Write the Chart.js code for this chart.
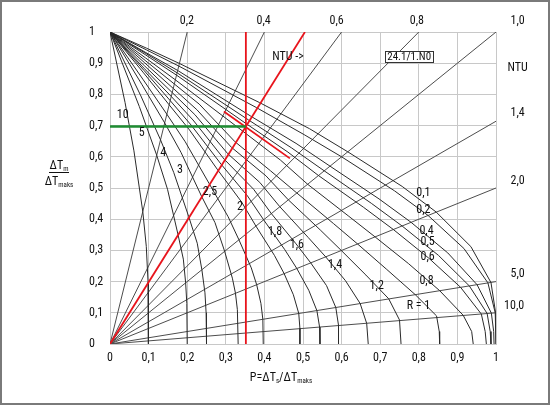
<!DOCTYPE html>
<html><head><meta charset="utf-8">
<script src="https://cdn.jsdelivr.net/npm/chart.js@4/dist/chart.umd.min.js"></script>
<style>html,body{margin:0;padding:0;background:#fff}#wrap{width:550px;height:405px;position:relative}</style>
</head><body><div id="wrap"><canvas id="c" width="550" height="405"></canvas></div>
<script>
const FONT = "'Roboto Condensed','Liberation Sans Narrow','Arial Narrow','Liberation Sans',Arial,sans-serif";

// ---- Data ----
const xTickValues = [0,0.1,0.2,0.3,0.4,0.5,0.6,0.7,0.8,0.9,1];
const xTickLabels = ['0','0,1','0,2','0,3','0,4','0,5','0,6','0,7','0,8','0,9','1'];
const yTickValues = [0,0.1,0.2,0.3,0.4,0.5,0.6,0.7,0.8,0.9,1];
const yTickLabels = ['0','0,1','0,2','0,3','0,4','0,5','0,6','0,7','0,8','0,9','1'];

// R curves: [P, dTm/dTmax]
const curveR10  = [[0,1],[0.039,0.774],[0.062,0.619],[0.085,0.424],[0.094,0.313],[0.0985,0.2],[0.0995,0.1],[0.0995,0]];
const curveR5   = [[0,1],[0.076,0.761],[0.121,0.605],[0.149,0.496],[0.176,0.352],[0.190,0.272],[0.196,0.196],[0.199,0.13],[0.2,0]];
const curveR4   = [[0,1],[0.080,0.795],[0.131,0.654],[0.165,0.55],[0.204,0.408],[0.226,0.323],[0.238,0.238],[0.246,0.164],[0.249,0.1],[0.25,0]];
const curveR3   = [[0,1],[0.083,0.831],[0.142,0.708],[0.184,0.614],[0.237,0.474],[0.272,0.389],[0.297,0.297],[0.317,0.211],[0.325,0.163],[0.330,0.11],[0.332,0]];
const curveR25  = [[0,1],[0.085,0.849],[0.147,0.737],[0.195,0.648],[0.257,0.514],[0.306,0.408],[0.334,0.334],[0.366,0.244],[0.380,0.190],[0.391,0.130],[0.396,0.079],[0.397,0]];
const curveR2   = [[0,1],[0.087,0.869],[0.153,0.767],[0.206,0.686],[0.279,0.558],[0.341,0.455],[0.378,0.378],[0.426,0.284],[0.451,0.226],[0.475,0.158],[0.489,0.098],[0.492,0.05],[0.492,0]];
const curveR18  = [[0,1],[0.088,0.877],[0.156,0.78],[0.210,0.702],[0.288,0.576],[0.356,0.475],[0.398,0.398],[0.453,0.302],[0.484,0.242],[0.515,0.172],[0.536,0.107],[0.543,0.054],[0.544,0]];
const curveR16  = [[0,1],[0.088,0.884],[0.159,0.793],[0.215,0.718],[0.296,0.592],[0.372,0.496],[0.418,0.418],[0.482,0.321],[0.520,0.260],[0.561,0.187],[0.585,0.117],[0.592,0.06],[0.592,0]];
const curveR14  = [[0,1],[0.089,0.892],[0.161,0.806],[0.220,0.735],[0.305,0.61],[0.388,0.518],[0.440,0.440],[0.513,0.342],[0.559,0.279],[0.610,0.203],[0.648,0.13],[0.665,0.066],[0.669,0]];
const curveR12  = [[0,1],[0.090,0.901],[0.164,0.819],[0.225,0.751],[0.315,0.63],[0.404,0.539],[0.462,0.462],[0.546,0.364],[0.599,0.30],[0.663,0.221],[0.722,0.145],[0.750,0.077],[0.754,0]];
const curveR1   = [[0,1],[0.091,0.909],[0.167,0.833],[0.231,0.769],[0.324,0.648],[0.416,0.555],[0.484,0.484],[0.579,0.386],[0.641,0.321],[0.717,0.239],[0.791,0.158],[0.846,0.09],[0.853,0.04],[0.854,0]];
const curveR08  = [[0,1],[0.092,0.917],[0.169,0.847],[0.342,0.684],[0.442,0.589],[0.512,0.512],[0.617,0.411],[0.687,0.343],[0.773,0.258],[0.854,0.171],[0.915,0.092],[0.937,0.04],[0.941,0]];
const curveR06  = [[0,1],[0.093,0.926],[0.172,0.862],[0.353,0.706],[0.461,0.615],[0.540,0.540],[0.657,0.438],[0.734,0.367],[0.826,0.275],[0.908,0.182],[0.962,0.096],[0.972,0.04],[0.975,0]];
const curveR05  = [[0,1],[0.093,0.931],[0.174,0.869],[0.359,0.718],[0.471,0.628],[0.555,0.555],[0.677,0.451],[0.757,0.378],[0.851,0.284],[0.931,0.186],[0.977,0.098],[0.985,0.04],[0.987,0]];
const curveR04  = [[0,1],[0.093,0.934],[0.175,0.877],[0.365,0.73],[0.482,0.643],[0.570,0.570],[0.697,0.465],[0.780,0.390],[0.875,0.292],[0.951,0.190],[0.988,0.099],[0.994,0.04],[0.995,0]];
const curveR02  = [[0,1],[0.094,0.943],[0.178,0.891],[0.379,0.758],[0.503,0.671],[0.600,0.600],[0.737,0.491],[0.824,0.412],[0.917,0.306],[0.979,0.196],[0.998,0.1],[1,0]];
const curveR01  = [[0,1],[0.095,0.948],[0.180,0.899],[0.387,0.774],[0.517,0.690],[0.616,0.616],[0.757,0.505],[0.845,0.423],[0.935,0.312],[0.987,0.197],[0.999,0.1],[1,0]];
const rCurves = [curveR10,curveR5,curveR4,curveR3,curveR25,curveR2,curveR18,curveR16,curveR14,curveR12,curveR1,curveR08,curveR06,curveR05,curveR04,curveR02,curveR01];

// NTU lines from the origin: end points
const ntuLineEnds = [[0.2,1],[0.4,1],[0.6,1],[0.8,1],[1,1],[1,0.714],[1,0.5],[1,0.2],[1,0.1]];
const ntuLabelTexts = ['0,2','0,4','0,6','0,8','1,0','1,4','2,0','5,0','10,0'];

// Worked example (red / green)
const redNtuLine  = [[0,0],[0.505,1]];
const redVertical = [[0.352,0],[0.352,1]];
const redTangent  = [[0.295,0.745],[0.466,0.595]];
const greenLine   = [[0,0.697],[0.352,0.697]];

// R curve labels
const rLabelTexts = ['10','5','4','3','2,5','2','1,8','1,6','1,4','1,2','R = 1','0,8','0,6','0,5','0,4','0,2','0,1'];
const rLabelPos = [[0.033,0.734],[0.082,0.675],[0.138,0.613],[0.181,0.558],[0.259,0.488],[0.337,0.44],[0.4275,0.36],[0.484,0.317],[0.583,0.253],[0.691,0.186],[0.799,0.122],[0.82,0.202],[0.823,0.278],[0.823,0.328],[0.82,0.363],[0.812,0.429],[0.812,0.483]];
// NTU label positions (data units, outside plot)
const ntuLabelPos = [[0.199,1.035],[0.398,1.035],[0.587,1.035],[0.795,1.035],[1.056,1.035],[1.056,0.739],[1.056,0.522],[1.056,0.224],[1.047,0.122]];

const pts = a => a.map(p => ({x:p[0], y:p[1]}));
const datasets = [];
rCurves.forEach(c => datasets.push({data:pts(c), showLine:true, borderColor:'#2a2a2a', borderWidth:1, pointRadius:0, order:2}));
ntuLineEnds.forEach(e => datasets.push({data:pts([[0,0],e]), showLine:true, borderColor:'#4d4d4d', borderWidth:1, pointRadius:0, order:3}));
[redNtuLine, redVertical, redTangent].forEach(l => datasets.push({data:pts(l), showLine:true, borderColor:'#e8141c', borderWidth:1.8, pointRadius:0, order:1}));
datasets.push({data:pts(greenLine), showLine:true, borderColor:'#1e8c32', borderWidth:2.4, pointRadius:0, order:0});

const MAINF = `12px ${FONT}`;
const SUBF = `7px ${FONT}`;
let SX = 1; // horizontal squeeze to imitate the condensed face of the original

function narrowText(ctx, t, x, y){
  ctx.save(); ctx.translate(x, y); ctx.scale(SX, 1); ctx.fillText(t, 0, 0); ctx.restore();
}
function drawRich(ctx, parts, x, y, align){
  let w = 0;
  parts.forEach(p => { ctx.font = p[1] ? SUBF : MAINF; w += ctx.measureText(p[0]).width * SX; });
  let cx = align === 'center' ? x - w/2 : x;
  ctx.textAlign = 'left'; ctx.textBaseline = 'alphabetic';
  parts.forEach(p => { ctx.font = p[1] ? SUBF : MAINF; narrowText(ctx, p[0], cx, p[1] ? y + 2 : y); cx += ctx.measureText(p[0]).width * SX; });
}

const textPlugin = {
  id:'texts',
  beforeDraw(chart){
    const ctx = chart.ctx; ctx.save(); ctx.font = MAINF;
    const w = ctx.measureText('NTU ->').width; ctx.restore();
    SX = w > 35 ? 33 / w : 1;
  },
  afterDatasetsDraw(chart){
    const ctx = chart.ctx, xs = chart.scales.x, ys = chart.scales.y;
    const X = v => xs.getPixelForValue(v), Y = v => ys.getPixelForValue(v);
    ctx.save();
    ctx.fillStyle = '#111';
    ctx.font = MAINF; ctx.textAlign = 'center'; ctx.textBaseline = 'middle';
    rLabelTexts.forEach((t,i) => narrowText(ctx, t, X(rLabelPos[i][0]), Y(rLabelPos[i][1])));
    ntuLabelTexts.forEach((t,i) => narrowText(ctx, t, X(ntuLabelPos[i][0]), Y(ntuLabelPos[i][1])));
    narrowText(ctx, 'NTU', X(1.056), Y(0.886));
    narrowText(ctx, 'NTU ->', X(0.461), Y(0.92));
    // reference box
    ctx.font = `11px ${FONT}`;
    const bt = '24.1/1.N0', bw = ctx.measureText(bt).width * SX + 4;
    const bx = X(0.775), by = Y(0.92);
    ctx.fillStyle = '#fff'; ctx.fillRect(bx - bw/2, by - 6, bw, 12);
    ctx.strokeStyle = '#333'; ctx.lineWidth = 1; ctx.strokeRect(Math.round(bx - bw/2)+0.5, Math.round(by - 6)+0.5, Math.round(bw), 11);
    ctx.fillStyle = '#111'; narrowText(ctx, bt, bx, by + 0.5);
    // axis titles
    drawRich(ctx, [['P=ΔT',0],['s',1],['/ΔT',0],['maks',1]], 281, 381, 'center');
    drawRich(ctx, [['ΔT',0],['m',1]], 59, 169, 'center');
    drawRich(ctx, [['ΔT',0],['maks',1]], 59, 185, 'center');
    ctx.strokeStyle = '#111'; ctx.lineWidth = 1;
    ctx.beginPath(); ctx.moveTo(49, 172.5); ctx.lineTo(69, 172.5); ctx.stroke();
    // outer frame
    ctx.strokeStyle = '#7a7a7a'; ctx.lineWidth = 2;
    ctx.strokeRect(1, 1, 548, 403);
    ctx.restore();
  }
};

new Chart(document.getElementById('c'), {
  type:'scatter',
  data:{datasets},
  options:{
    responsive:false, animation:false, devicePixelRatio:1,
    layout:{padding:{left:89, right:54, top:32, bottom:0}},
    plugins:{legend:{display:false}, tooltip:{enabled:false}},
    elements:{line:{tension:0}},
    scales:{
      x:{type:'linear', min:0, max:1,
        afterBuildTicks(s){ s.ticks = xTickValues.map(v => ({value:v})); },
        afterFit(s){ s.height = 61; },
        ticks:{callback:(v,i) => xTickLabels[i], font:{family:FONT, size:12}, color:'#111', padding:7, maxRotation:0, autoSkip:false},
        grid:{color:'#c8c8c8', lineWidth:1, drawTicks:false}, border:{color:'#c8c8c8'}},
      y:{type:'linear', min:0, max:1,
        afterBuildTicks(s){ s.ticks = yTickValues.map(v => ({value:v})); },
        afterFit(s){ s.width = 21; },
        ticks:{callback:(v,i) => yTickLabels[i], font:{family:FONT, size:12}, color:'#111', crossAlign:'far', padding:0, autoSkip:false},
        grid:{color:'#c8c8c8', lineWidth:1, drawTicks:false}, border:{color:'#c8c8c8'}}
    }
  },
  plugins:[textPlugin]
});
</script></body></html>
